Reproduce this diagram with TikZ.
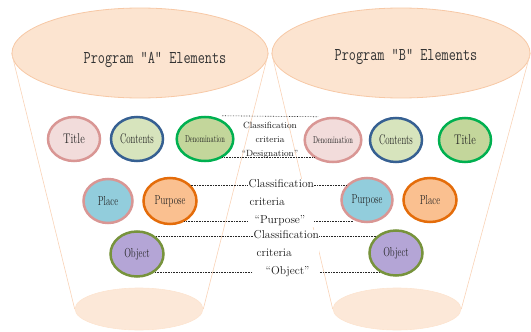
\documentclass[tikz,border=0pt]{standalone}
\usepackage{graphicx}
\usetikzlibrary{shapes.geometric,positioning,calc}

\definecolor{peachfill}{RGB}{252,228,208}
\definecolor{peachline}{RGB}{247,200,165}
\definecolor{basefill}{RGB}{252,232,216}
\definecolor{rosefill}{RGB}{242,220,219}
\definecolor{roseline}{RGB}{217,150,148}
\definecolor{sagefill}{RGB}{215,228,189}
\definecolor{navyline}{RGB}{54,96,146}
\definecolor{leaffill}{RGB}{195,214,155}
\definecolor{leafline}{RGB}{0,176,80}
\definecolor{skyfill}{RGB}{146,205,220}
\definecolor{apricotfill}{RGB}{250,192,144}
\definecolor{apricotline}{RGB}{228,108,10}
\definecolor{lilacfill}{RGB}{180,165,214}
\definecolor{oliveline}{RGB}{119,147,60}

\newcommand{\slim}[2][0.78]{\scalebox{#1}[1]{#2}}

\begin{document}
\begin{tikzpicture}[x=1pt,y=-1pt,
    topcone/.style={ellipse, draw=peachline, fill=peachfill, line width=0.8pt,
        minimum width=256pt, minimum height=90pt},
    basecone/.style={ellipse, draw=peachfill, fill=basefill, line width=0.6pt,
        minimum width=128pt, minimum height=42pt},
    coneline/.style={draw=peachline!80, line width=0.6pt},
    heading/.style={font=\ttfamily\fontsize{18}{20}\selectfont, text=black!80},
    elem/.style={ellipse, line width=2.5pt, minimum width=52pt, minimum height=44pt,
        inner sep=0pt, text=black!85, font=\fontsize{14}{14}\selectfont},
    rosecirc/.style={elem, draw=roseline, fill=rosefill},
    sagecirc/.style={elem, draw=navyline, fill=sagefill},
    leafcirc/.style={elem, draw=leafline, fill=leaffill},
    skycirc/.style={elem, draw=roseline, fill=skyfill, font=\fontsize{13}{13}\selectfont},
    apricotcirc/.style={elem, draw=apricotline, fill=apricotfill, font=\fontsize{13}{13}\selectfont},
    lilaccirc/.style={elem, draw=oliveline, fill=lilacfill, minimum height=45pt, font=\fontsize{13}{13}\selectfont},
    dotline/.style={densely dotted, line width=0.6pt, black!85},
    crit/.style={fill=white, inner sep=0.5pt, align=left, text=black!90,
        font=\fontsize{11.5}{18}\selectfont}
]
\useasboundingbox (0,0) rectangle (531,332);

% funnels
\node[topcone] (topA) at (140,53) {};
\node[topcone, minimum width=258pt] (topB) at (401,53) {};
\node[basecone] (botA) at (139,309) {};
\node[basecone] (botB) at (397,309) {};
\draw[coneline] (topA.west) -- (botA.west);
\draw[coneline] (topA.east) -- (botA.east);
\draw[coneline] (topB.west) -- (botB.west);
\draw[coneline] (topB.east) -- (botB.east);
\node[heading] (headA) at (155,60) {\slim[0.77]{Program "A" Elements}};
\node[heading] (headB) at (406,57) {\slim[0.77]{Program "B" Elements}};

% program A
\node[rosecirc] (titleA) at (74,139) {\slim[0.75]{Title}};
\node[sagecirc] (contA) at (137,139) {\slim[0.63]{Contents}};
\node[leafcirc] (denA) at (205,139) {\fontsize{10}{10}\selectfont\slim[0.65]{Denomination}};
\node[skycirc, minimum width=49pt] (placeA) at (108,201) {\slim[0.68]{Place}};
\node[apricotcirc, minimum width=53pt, minimum height=46pt] (purA) at (170,201) {\slim[0.68]{Purpose}};
\node[lilaccirc, minimum width=53pt] (objA) at (137,254) {\slim[0.68]{Object}};

% program B
\node[rosecirc] (denB) at (333,140) {\fontsize{10}{10}\selectfont\slim[0.65]{Denomination}};
\node[sagecirc] (contB) at (396,140) {\slim[0.63]{Contents}};
\node[leafcirc] (titleB) at (465,140) {\slim[0.75]{Title}};
\node[skycirc, minimum width=51pt] (purB) at (367,200) {\slim[0.68]{Purpose}};
\node[apricotcirc, minimum width=53pt] (placeB) at (430,200) {\slim[0.68]{Place}};
\node[lilaccirc, minimum width=53pt] (objB) at (396,253) {\slim[0.68]{Object}};

% criteria links
\draw[dotline] ($(denA.north)+(17,0)$) -- ($(denB.north)+(-15,0)$);
\draw[dotline] (denA.-47) -- (denA.-47 -| denB.223);
\draw[dotline] (purA.38) -- (purA.38 -| purB.143);
\draw[dotline] (purA.-55) -- (purA.-55 -| purB.-125);
\draw[dotline] (objA.42) -- (objA.42 -| objB.141);
\draw[dotline] (objA.-45) -- (objA.-45 -| objB.-130);

\node[crit, anchor=north, align=center, fill=none, font=\fontsize{9}{14}\selectfont]
    (critDen) at (270,121) {Classification\\criteria\\``Designation''};
\node[crit, anchor=north west] (critPur) at (248,179)
    {Classification\\\hspace{1pt}criteria\\\hspace{6pt}``Purpose''};
\node[crit, anchor=north west] (critObj) at (253,230)
    {Classification\\\hspace{3pt}criteria\\\hspace{12pt}``Object''};
\end{tikzpicture}
\end{document}
